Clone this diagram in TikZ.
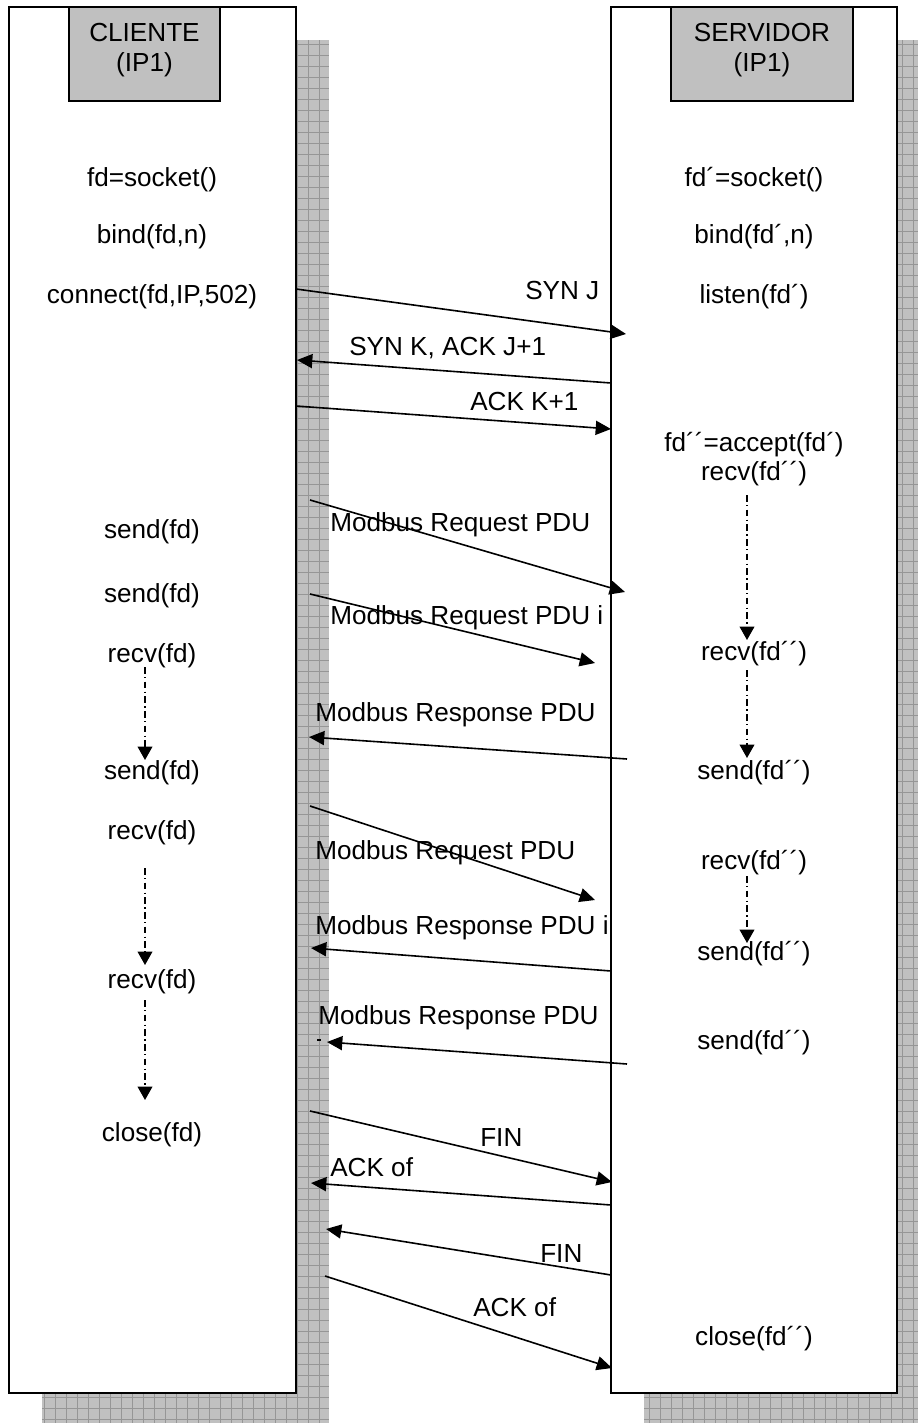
\documentclass[tikz,border=0pt]{standalone}
\usepackage{fontspec}
\setmainfont{Liberation Sans}
\usetikzlibrary{arrows.meta}
\definecolor{shadowfill}{HTML}{C0C0C0}
\definecolor{shadowgrid}{HTML}{969696}
\definecolor{headfill}{HTML}{C0C0C0}
\begin{document}
\begin{tikzpicture}[x=0.75pt,y=-0.75pt,
  every node/.style={font=\fontsize{19.6}{22.5}\selectfont},
  lane/.style={draw=black, line width=1.5pt, fill=white},
  headbox/.style={draw=black, line width=1.5pt, fill=headfill},
  shadowbox/.style={fill=shadowfill},
  gridlines/.style={draw=shadowgrid, line width=0.5pt},
  call/.style={inner sep=0pt, anchor=center},
  head/.style={inner sep=0pt, anchor=center, align=center},
  msglabel/.style={inner sep=0pt, anchor=west},
  msg/.style={line width=1.2pt, -{Triangle[length=11.5pt,width=10.5pt]}},
  wait/.style={line width=1.1pt, dash pattern=on 5pt off 2.5pt on 1pt off 2.5pt,
    -{Triangle[length=10pt,width=11pt]}},
]
\useasboundingbox (0,0) rectangle (917,1423);

% drop shadows with a grid texture
\foreach \l/\r in {42/329, 644/930} {
  \begin{scope}
    \clip (\l,40) rectangle (\r,1426);
    \fill[shadowbox] (\l,40) rectangle (\r,1426);
    \draw[gridlines, step=8.25pt] (\l,40) grid (\r,1426);
  \end{scope}
}

% lanes and their headers
\draw[lane] (9,7) rectangle (296,1393);
\draw[lane] (611,7) rectangle (897,1393);
\draw[headbox] (69,7) rectangle (220,101);
\draw[headbox] (671,7) rectangle (853,101);
\node[head] (clienthead) at (144.5,50) {CLIENTE\\(IP1)};
\node[head] (serverhead) at (762,50) {SERVIDOR\\(IP1)};

% client calls
\node[call] (c1) at (152,180) {fd=socket()};
\node[call] (c2) at (152,237) {bind(fd,n)};
\node[call] (c3) at (152,297) {connect(fd,IP,502)};
\node[call] (c4) at (152,532) {send(fd)};
\node[call] (c5) at (152,596) {send(fd)};
\node[call] (c6) at (152,656) {recv(fd)};
\node[call] (c7) at (152,773) {send(fd)};
\node[call] (c8) at (152,833) {recv(fd)};
\node[call] (c9) at (152,982) {recv(fd)};
\node[call] (c10) at (152,1135) {close(fd)};

% server calls
\node[call] (s1) at (754,180) {fd´=socket()};
\node[call] (s2) at (754,237) {bind(fd´,n)};
\node[call] (s3) at (754,297) {listen(fd´)};
\node[call] (s4) at (754,445) {fd´´=accept(fd´)};
\node[call] (s5) at (754,474) {recv(fd´´)};
\node[call] (s6) at (754,654) {recv(fd´´)};
\node[call] (s7) at (754,773) {send(fd´´)};
\node[call] (s8) at (754,863) {recv(fd´´)};
\node[call] (s9) at (754,954) {send(fd´´)};
\node[call] (s10) at (754,1043) {send(fd´´)};
\node[call] (s11) at (754,1339) {close(fd´´)};

% message end points
\coordinate (m1a) at (296,289);  \coordinate (m1b) at (626,334);
\coordinate (m2a) at (611,383);  \coordinate (m2b) at (297,360);
\coordinate (m3a) at (296,406);  \coordinate (m3b) at (611,429);
\coordinate (m4a) at (310,500);  \coordinate (m4b) at (625,592);
\coordinate (m5a) at (310,594);  \coordinate (m5b) at (595,663);
\coordinate (m6a) at (627,759);  \coordinate (m6b) at (309,737);
\coordinate (m7a) at (310,806);  \coordinate (m7b) at (595,900);
\coordinate (m8a) at (611,971);  \coordinate (m8b) at (311,948);
\coordinate (m9a) at (627,1064); \coordinate (m9b) at (327,1042);
\coordinate (m10a) at (310,1111); \coordinate (m10b) at (612,1182);
\coordinate (m11a) at (611,1205); \coordinate (m11b) at (311,1183);
\coordinate (m12a) at (611,1275); \coordinate (m12b) at (326,1229);
\coordinate (m13a) at (325,1276); \coordinate (m13b) at (612,1368);

\foreach \i in {1,...,13} { \draw[msg] (m\i a) -- (m\i b); }
\coordinate (tickA) at (317,1040); \coordinate (tickB) at (321,1040);
\draw[line width=1pt] (tickA) -- (tickB);

% message labels
\node[msglabel] (l1) at (525,291) {SYN J};
\node[msglabel] (l2) at (349,348) {SYN K, ACK J+1};
\node[msglabel] (l3) at (470,402) {ACK K+1};
\node[msglabel] (l4) at (330,525) {Modbus Request PDU};
\node[msglabel] (l5) at (330,618) {Modbus Request PDU i};
\node[msglabel] (l6) at (315,715) {Modbus Response PDU};
\node[msglabel] (l7) at (315,853) {Modbus Request PDU};
\node[msglabel] (l8) at (315,928) {Modbus Response PDU i};
\node[msglabel] (l9) at (318,1018) {Modbus Response PDU};
\node[msglabel] (l10) at (480,1137) {FIN};
\node[msglabel] (l11) at (330,1167) {ACK of};
\node[msglabel] (l12) at (540,1253) {FIN};
\node[msglabel] (l13) at (473,1307) {ACK of};

% waiting periods within a lane
\coordinate (w1a) at (145,667);  \coordinate (w1b) at (145,760);
\coordinate (w2a) at (145,868);  \coordinate (w2b) at (145,965);
\coordinate (w3a) at (145,1000); \coordinate (w3b) at (145,1100);
\coordinate (w4a) at (747,495);  \coordinate (w4b) at (747,640);
\coordinate (w5a) at (747,670);  \coordinate (w5b) at (747,758);
\coordinate (w6a) at (747,876);  \coordinate (w6b) at (747,943);
\foreach \i in {1,...,6} { \draw[wait] (w\i a) -- (w\i b); }
\end{tikzpicture}
\end{document}
